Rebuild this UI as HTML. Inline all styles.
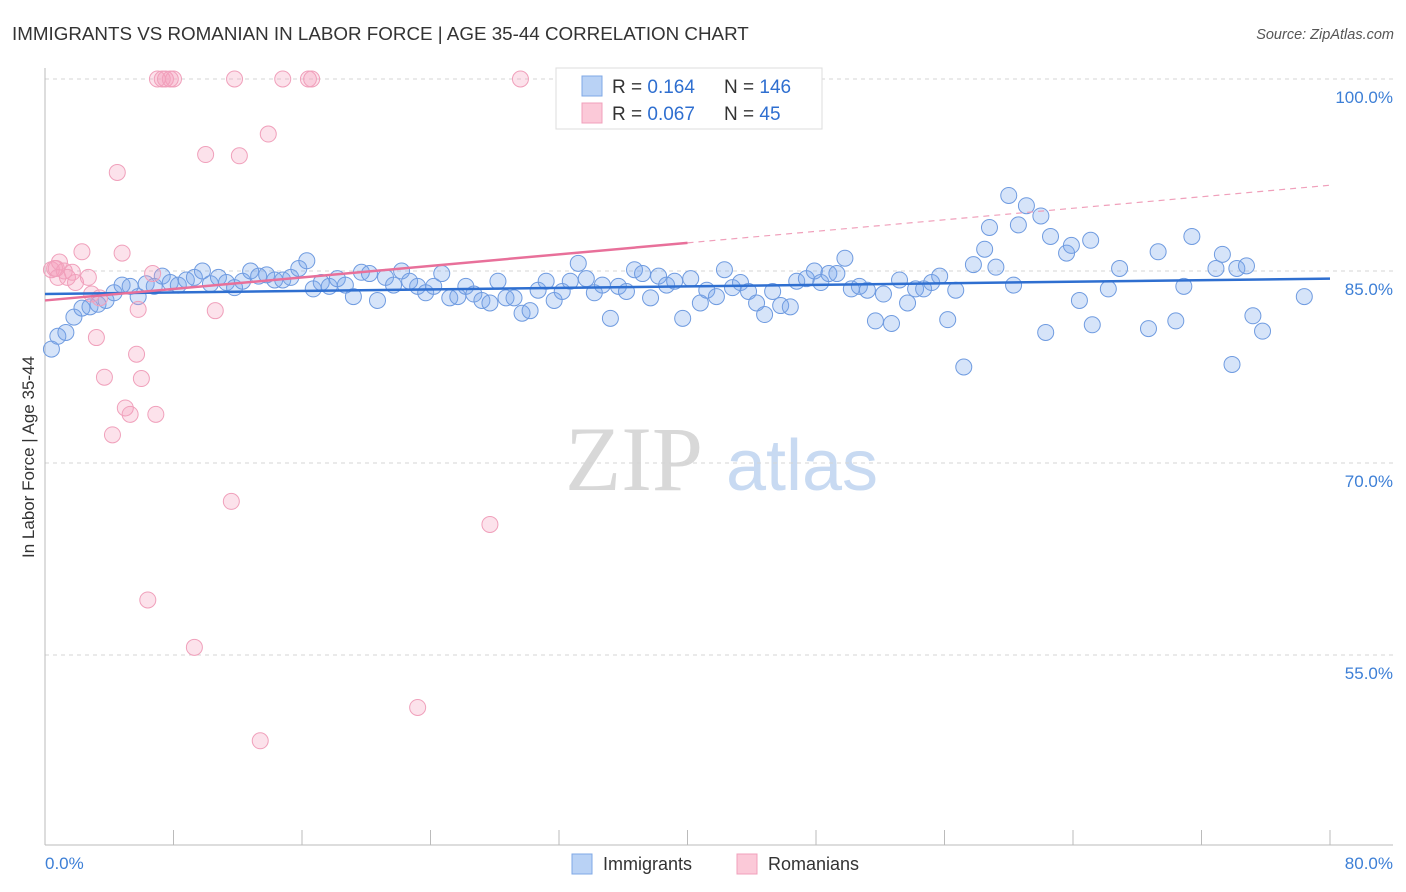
<!DOCTYPE html>
<html><head><meta charset="utf-8"><style>
body{margin:0;background:#fff;font-family:"Liberation Sans",sans-serif}
svg{display:block}
</style></head><body>
<svg id="chart" width="1406" height="892">
<text x="12" y="40" font-size="18.8" fill="#333">IMMIGRANTS VS ROMANIAN IN LABOR FORCE | AGE 35-44 CORRELATION CHART</text>
<text x="1394" y="39" font-size="14.5" fill="#555" font-style="italic" text-anchor="end">Source: ZipAtlas.com</text>
<g>
<text x="634" y="490" font-size="92" fill="#d8d8d8" font-family="Liberation Serif,serif" text-anchor="middle">ZIP</text>
<text x="802" y="490" font-size="72" fill="#c8daf2" text-anchor="middle">atlas</text>
</g>
<g id="grid"></g>
<g id="axes"></g>
<g id="marks"></g>
<text transform="translate(34,457) rotate(-90)" font-size="17" fill="#333" text-anchor="middle">In Labor Force | Age 35-44</text>
<text x="45" y="869" font-size="17" fill="#3d7fd6">0.0%</text>
<text x="1393" y="869" font-size="17" fill="#3d7fd6" text-anchor="end">80.0%</text>
<g>
<rect x="556" y="68" width="266" height="61" fill="#fff" stroke="#ddd"/>
<rect x="582" y="76" width="20" height="20" fill="#b9d2f5" stroke="#7fa8e6"/>
<rect x="582" y="103" width="20" height="20" fill="#fbc9d8" stroke="#f0a0bb"/>
<text x="612" y="93" font-size="19" fill="#333">R = <tspan fill="#2f6fd0">0.164</tspan></text>
<text x="724" y="93" font-size="19" fill="#333">N = <tspan fill="#2f6fd0">146</tspan></text>
<text x="612" y="120" font-size="19" fill="#333">R = <tspan fill="#2f6fd0">0.067</tspan></text>
<text x="724" y="120" font-size="19" fill="#333">N = <tspan fill="#2f6fd0"> 45</tspan></text>
</g>
<g>
<rect x="572" y="854" width="20" height="20" fill="#b9d2f5" stroke="#7fa8e6"/>
<text x="603" y="870" font-size="18" fill="#333">Immigrants</text>
<rect x="737" y="854" width="20" height="20" fill="#fbc9d8" stroke="#f0a0bb"/>
<text x="768" y="870" font-size="18" fill="#333">Romanians</text>
</g>
</svg>
<script>
const yTicks=[100,85,70,55];
const yTickLabels=["100.0%","85.0%","70.0%","55.0%"];
const xTicks=[0,8,16,24,32,40,48,56,64,72,80];
const immigrantsX=[0.4,0.8,1.3,1.8,2.3,2.8,3.3,3.8,4.3,4.8,5.3,5.8,6.3,6.8,7.3,7.8,8.3,8.8,9.3,9.8,10.3,10.8,11.3,11.8,12.3,12.8,13.3,13.8,14.3,14.8,15.3,15.8,16.3,16.7,17.2,17.7,18.2,18.7,19.2,19.7,20.2,20.7,21.2,21.7,22.2,22.7,23.2,23.7,24.2,24.7,25.2,25.7,26.2,26.7,27.2,27.7,28.2,28.7,29.2,29.7,30.2,30.7,31.2,31.7,32.2,32.7,33.2,33.7,34.2,34.7,35.2,35.7,36.2,36.7,37.2,37.7,38.2,38.7,39.2,39.7,40.2,40.8,41.2,41.8,42.3,42.8,43.3,43.8,44.3,44.8,45.3,45.8,46.4,46.8,47.4,47.9,48.3,48.8,49.3,49.8,50.2,50.7,51.2,51.7,52.2,52.7,53.2,53.7,54.2,54.7,55.2,55.7,56.2,56.7,57.2,57.8,58.5,58.8,59.2,60.0,60.3,60.6,61.1,62.0,62.3,62.6,63.6,63.9,64.4,65.1,65.2,66.2,66.9,68.7,69.3,70.4,70.9,71.4,72.9,73.3,73.9,74.2,74.8,75.2,75.8,78.4];
const immigrantsY=[78.9,79.9,80.2,81.4,82.1,82.2,82.4,82.7,83.3,83.9,83.8,83.0,84.0,83.8,84.6,84.1,83.9,84.3,84.5,85.0,84.0,84.5,84.1,83.7,84.2,85.0,84.6,84.7,84.3,84.3,84.5,85.2,85.8,83.6,84.1,83.8,84.4,83.9,83.0,84.9,84.8,82.7,84.5,83.9,85.0,84.2,83.8,83.3,83.8,84.8,82.9,83.0,83.8,83.2,82.7,82.5,84.2,82.9,82.9,81.7,81.9,83.5,84.2,82.7,83.4,84.2,85.6,84.4,83.3,83.9,81.3,83.8,83.4,85.1,84.8,82.9,84.6,83.9,84.2,81.3,84.4,82.5,83.5,83.0,85.1,83.7,84.1,83.4,82.5,81.6,83.4,82.3,82.2,84.2,84.4,85.0,84.1,84.8,84.8,86.0,83.6,83.8,83.5,81.1,83.2,80.9,84.3,82.5,83.6,83.6,84.1,84.6,81.2,83.5,77.5,85.5,86.7,88.4,85.3,90.9,83.9,88.6,90.1,89.3,80.2,87.7,86.4,87.0,82.7,87.4,80.8,83.6,85.2,80.5,86.5,81.1,83.8,87.7,85.2,86.3,77.7,85.2,85.4,81.5,80.3,83.0];
const romaniansX=[0.4,0.6,0.8,0.9,1.2,1.4,1.7,1.9,2.3,2.7,2.9,3.2,3.4,3.7,4.2,4.5,4.8,5.0,5.3,5.8,5.7,6.0,6.4,6.7,6.9,7.0,7.5,8.0,9.3,10.0,10.6,11.6,11.8,12.1,13.4,13.9,14.8,16.4,16.6,23.2,27.7,29.6,7.3,7.8,0.7];
const romaniansY=[85.1,85.2,84.5,85.7,85.0,84.5,84.9,84.1,86.5,84.5,83.2,79.8,82.9,76.7,72.2,92.7,86.4,74.3,73.8,82.0,78.5,76.6,59.3,84.8,73.8,100,100,100,55.6,94.1,81.9,67.0,100,94.0,48.3,95.7,100,100,100,50.9,65.2,100,100,100,85.2];
const immigrantsTrend=[83.2,84.4];
const romaniansTrend=[82.7,91.7];
const romaniansSolidEnd=40;

const NS="http://www.w3.org/2000/svg";
const X0=45,X1=1330,Ytop=79,Ybot=845;
const xs=v=>X0+v/80*(X1-X0);
const ys=v=>Ytop+(100-v)*12.8;
function mk(tag,attrs,parent){const e=document.createElementNS(NS,tag);for(const k in attrs)e.setAttribute(k,attrs[k]);parent.appendChild(e);return e;}
const grid=document.getElementById('grid'),axes=document.getElementById('axes'),marks=document.getElementById('marks');
yTicks.forEach((t,i)=>{
 const l=mk('line',{x1:X0,x2:1393,y1:ys(t),y2:ys(t),stroke:'#d5d5d5','stroke-dasharray':'4,4'},grid);
 
 
 const tx=mk('text',{x:1393,y:ys(t)+24,'font-size':17,fill:'#3d7fd6','text-anchor':'end'},grid);
 tx.textContent=yTickLabels[i];
 
 
});
const ya=mk('line',{x1:X0,x2:X0,y1:68,y2:Ybot,stroke:'#bbb'},axes);


const xa=mk('line',{x1:X0,x2:1393,y1:Ybot,y2:Ybot,stroke:'#bbb'},axes);


xTicks.forEach(t=>{
 const l=mk('line',{x1:xs(t),x2:xs(t),y1:830,y2:Ybot,stroke:'#bbb'},axes);
 
 
});
immigrantsX.forEach((x,i)=>{
 const c=mk('circle',{cx:xs(x),cy:ys(immigrantsY[i]),r:8,fill:'rgba(120,165,235,0.3)',stroke:'#6f9be0','stroke-width':1},marks);
 
 
});
romaniansX.forEach((x,i)=>{
 const c=mk('circle',{cx:xs(x),cy:ys(romaniansY[i]),r:8,fill:'rgba(245,160,190,0.3)',stroke:'#f0a0bb','stroke-width':1},marks);
 
 
});
const bt=mk('line',{x1:xs(0),y1:ys(immigrantsTrend[0]),x2:xs(80),y2:ys(immigrantsTrend[1]),stroke:'#2f6fd0','stroke-width':2.5},marks);


const rmid=romaniansTrend[0]+(romaniansTrend[1]-romaniansTrend[0])*romaniansSolidEnd/80;
const ps=mk('line',{x1:xs(0),y1:ys(romaniansTrend[0]),x2:xs(romaniansSolidEnd),y2:ys(rmid),stroke:'#e8709a','stroke-width':2.5},marks);


const pd=mk('line',{x1:xs(romaniansSolidEnd),y1:ys(rmid),x2:xs(80),y2:ys(romaniansTrend[1]),stroke:'#f0a0bb','stroke-width':1.2,'stroke-dasharray':'6,5'},marks);


</script>
</body></html>
